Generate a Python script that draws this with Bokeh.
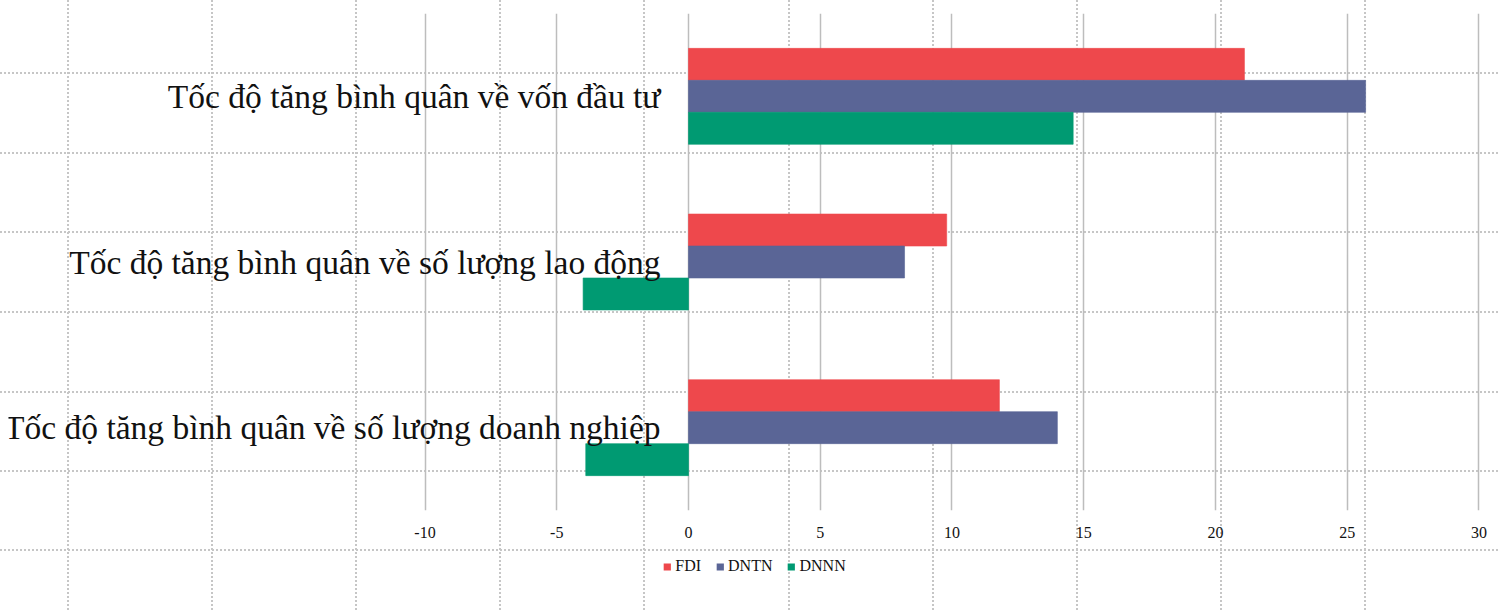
from bokeh.plotting import figure
from bokeh.layouts import column
from bokeh.models import ColumnDataSource, FactorRange, Range1d, FixedTicker, Legend, PrintfTickFormatter
from bokeh.transform import dodge
from bokeh.core.properties import value
from bokeh.embed import file_html
from bokeh.resources import INLINE

# categories, top to bottom as in the picture
categories = [
    "Tốc độ tăng bình quân về vốn đầu tư",
    "Tốc độ tăng bình quân về số lượng lao động",
    "Tốc độ tăng bình quân về số lượng doanh nghiệp",
]
series = ["FDI", "DNTN", "DNNN"]
fdi = [21.1, 9.8, 11.8]
dntn = [25.7, 8.2, 14.0]
dnnn = [14.6, -4.0, -3.9]
ticks = [-10, -5, 0, 5, 10, 15, 20, 25, 30]

colors = {"FDI": "#ee484c", "DNTN": "#5a6596", "DNNN": "#009a72"}
offsets = {"FDI": 0.193, "DNTN": 0.0, "DNNN": -0.193}
bar_h = 0.193

# page background: dotted guide lines behind the chart (pixel positions)
bg_rows = [72, 152, 231, 311, 391, 470, 549]
bg_cols = [67, 211, 355, 499, 643, 788, 932, 1076, 1220, 1364]
dot = "#c6c6c6"
imgs, sizes, poss, reps = [], [], [], []
for r in bg_rows:
    imgs.append(f"linear-gradient(to right, {dot} 50%, rgba(255,255,255,0) 50%)")
    sizes.append("4px 1.5px")
    poss.append(f"0px {r}px")
    reps.append("repeat-x")
for c in bg_cols:
    imgs.append(f"linear-gradient(to bottom, {dot} 50%, rgba(255,255,255,0) 50%)")
    sizes.append("1.5px 4px")
    poss.append(f"{c}px 0px")
    reps.append("repeat-y")
bg_style = {
    "background-color": "white",
    "background-image": ", ".join(imgs),
    "background-size": ", ".join(sizes),
    "background-position": ", ".join(poss),
    "background-repeat": ", ".join(reps),
}

p = figure(
    y_range=FactorRange(factors=categories[::-1], range_padding=0),
    x_range=Range1d(-25.81, 30.82),
    frame_width=1492, frame_height=497,
    min_border_left=8, min_border_right=0, min_border_top=13, min_border_bottom=0,
    output_backend="svg", toolbar_location=None, y_axis_location=None,
)
p.background_fill_alpha = 0
p.border_fill_alpha = 0
p.outline_line_color = None

src = ColumnDataSource(data=dict(cat=categories, FDI=fdi, DNTN=dntn, DNNN=dnnn,
                                 zero=[0] * len(categories)))

for s in series:
    p.hbar(y=dodge("cat", offsets[s], range=p.y_range), height=bar_h, left=0, right=s,
           source=src, fill_color=colors[s], line_color=colors[s], line_alpha=0.6, line_width=1)

# category labels sit just left of the zero line, as in the original
p.text(x="zero", y="cat", text="cat", source=src, x_offset=-28,
       text_align="right", text_baseline="middle", text_color="#111111",
       text_font=value("Liberation Serif"), text_font_size="33.5px")

p.xgrid.ticker = FixedTicker(ticks=ticks)
p.xgrid.grid_line_color = "#bdbdbd"
p.xgrid.grid_line_width = 1.5
p.ygrid.grid_line_color = None

p.xaxis.ticker = FixedTicker(ticks=ticks)
p.xaxis.formatter = PrintfTickFormatter(format="%d")
p.xaxis.axis_line_color = None
p.xaxis.major_tick_line_color = None
p.xaxis.minor_tick_line_color = None
p.xaxis.major_label_standoff = 10
p.xaxis.major_label_text_font = "Liberation Serif"
p.xaxis.major_label_text_font_size = "16px"
p.xaxis.major_label_text_color = "#111111"

# legend strip under the axis; its swatches are zero-width bars in the series colours
leg = figure(width=1500, height=70, x_range=Range1d(0, 1), y_range=Range1d(0, 1),
             min_border=0, output_backend="svg", toolbar_location=None,
             x_axis_location=None, y_axis_location=None)
leg.background_fill_alpha = 0
leg.border_fill_alpha = 0
leg.outline_line_color = None
leg.grid.visible = False
items = []
for s in series:
    r = leg.hbar(y=[0], left=[0], right=[0], height=0, fill_color=colors[s], line_color=None)
    items.append((s, [r]))
legend = Legend(items=items, orientation="horizontal", location="top_center",
                glyph_width=9, glyph_height=9, label_standoff=4, spacing=14,
                label_text_font="Liberation Serif", label_text_font_size="16px",
                label_text_color="#111111", border_line_color=None,
                background_fill_alpha=0, padding=4, margin=17)
leg.add_layout(legend)

page = column(p, leg, spacing=0, styles=bg_style)
open("out.html", "w").write(file_html(page, INLINE))
